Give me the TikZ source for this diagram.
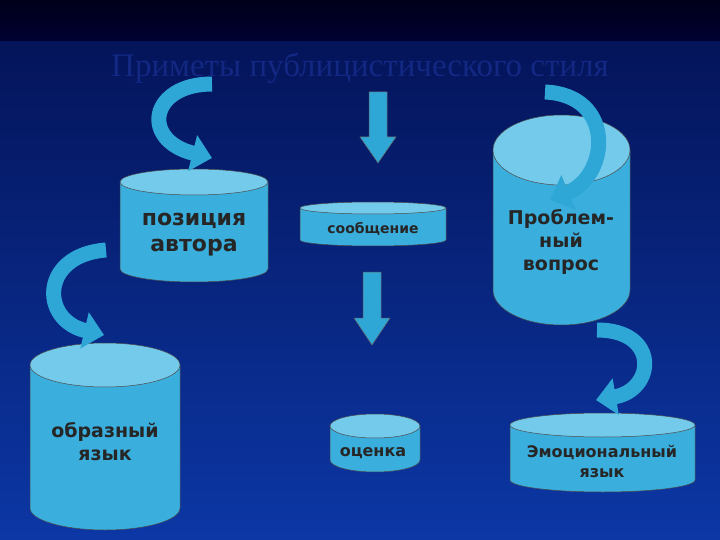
\documentclass[tikz,border=0pt]{standalone}
\usepackage{fontspec}
\setmainfont{Liberation Serif}
\newfontfamily\sansf{DejaVu Sans}
\usetikzlibrary{arrows.meta}
\definecolor{cyl}{HTML}{3AAEDC}
\definecolor{cyltop}{HTML}{74CAEA}
\definecolor{arr}{HTML}{2EA6D6}
\begin{document}
\begin{tikzpicture}[x=1pt,y=-1pt,
  curv/.style={draw=arr,line width=15pt,-{Triangle[width=36pt,length=20pt]}},
  blk/.style={fill=arr,draw=black!60,line width=0.5pt},
  lbl/.style={font=\sansf\bfseries,align=center,text=black!85}]
\useasboundingbox (0,0) rectangle (720,540);
\shade[top color=black!90!blue,bottom color=black!80!blue] (0,0) rectangle (720,42);
\shade[top color={rgb,255:red,4;green,20;blue,90},bottom color={rgb,255:red,12;green,55;blue,165}] (0,42) rectangle (720,540);
\node[font=\fontsize{33}{36}\selectfont,text={rgb,255:red,18;green,40;blue,130}] (title) at (360,68) {Приметы публицистического стиля};
\newcommand\cylx[5]{%
  \filldraw[fill=cyl,draw=black!70,line width=0.5pt] (#1,#3) -- (#1,#5) arc[start angle=180,end angle=0,x radius={(#2-#1)/2},y radius=#4] -- (#2,#3);
  \filldraw[fill=cyltop,draw=black!70,line width=0.5pt] ({(#1+#2)/2},#3) ellipse[x radius={(#2-#1)/2},y radius=#4];}
\cylx{120}{268}{182}{13}{269}
\cylx{300}{446}{208}{6}{240}
\cylx{493}{630}{150}{35}{290}
\cylx{30}{180}{365}{22}{508}
\cylx{330}{420}{426}{12}{460}
\cylx{510}{695}{425}{12}{480}
\node[lbl,font=\sansf\bfseries\fontsize{22}{26}\selectfont] (a) at (194,235) {позиция\\автора};
\node[lbl,font=\sansf\bfseries\fontsize{14}{17}\selectfont] (b) at (373,229) {сообщение};
\node[lbl,font=\sansf\bfseries\fontsize{19}{23}\selectfont] (c) at (561,242) {Проблем-\\ный\\вопрос};
\node[lbl,font=\sansf\bfseries\fontsize{19}{23}\selectfont] (d) at (105,442) {образный\\язык};
\node[lbl,font=\sansf\bfseries\fontsize{16}{19}\selectfont] (e) at (373,453) {оценка};
\node[lbl,font=\sansf\bfseries\fontsize{16}{20}\selectfont] (f) at (602,461) {Эмоциональный\\язык};
\filldraw[blk] (369,92) -- (387,92) -- (387,137) -- (396,137) -- (378,163) -- (360,137) -- (369,137) -- cycle;
\filldraw[blk] (363,272) -- (381,272) -- (381,318) -- (390,318) -- (372,345) -- (354,318) -- (363,318) -- cycle;
\coordinate (p1) at (212,84); \coordinate (q1) at (212,158);
\draw[curv] (p1) .. controls (150,84) and (140,140) .. (q1);
\coordinate (p2) at (106,250); \coordinate (q2) at (104,335);
\draw[curv] (p2) .. controls (40,255) and (40,320) .. (q2);
\coordinate (p3) at (545,92); \coordinate (q3) at (550,200);
\draw[curv] (p3) .. controls (615,95) and (610,175) .. (q3);
\coordinate (p4) at (597,330); \coordinate (q4) at (596,400);
\draw[curv] (p4) .. controls (660,330) and (655,390) .. (q4);
\end{tikzpicture}
\end{document}
